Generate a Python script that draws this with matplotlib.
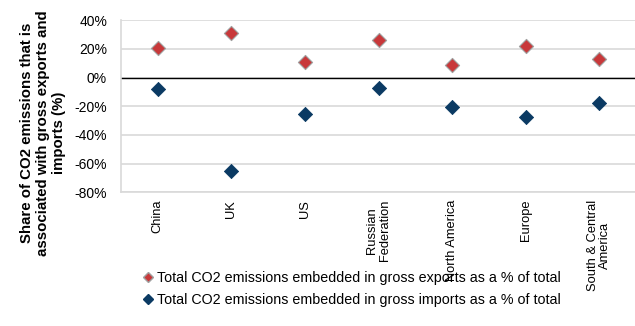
import matplotlib
matplotlib.use("Agg")
import matplotlib.pyplot as plt
from matplotlib.lines import Line2D

categories = ["China", "UK", "US", "Russian\nFederation", "North America", "Europe", "South & Central\nAmerica"]
exports = [20.8, 31.0, 10.8, 26.2, 8.5, 22.2, 12.7]
imports = [-8.2, -65.4, -25.7, -7.5, -20.8, -27.6, -17.8]
yticks = [40, 20, 0, -20, -40, -60, -80]

plt.rcParams['font.family'] = ['Liberation Sans', 'DejaVu Sans']

W, H = 635, 326
fig = plt.figure(figsize=(W/100, H/100), dpi=100)
left, right, top, bottom = 121, 636, 20.3, 192.3
ax = fig.add_axes([left/W, 1-bottom/H, (right-left)/W, (bottom-top)/H])

x = list(range(len(categories)))
red = "#C8383A"
blue = "#0B3A63"
ax.scatter(x, exports, marker="D", s=52, color=red, edgecolors="#A0A0A0", linewidths=0.8, zorder=3)
ax.scatter(x, imports, marker="D", s=52, color=blue, edgecolors=blue, linewidths=0.6, zorder=3)

ax.set_xlim(-0.5, len(categories)-0.5)
ax.set_ylim(-80, 40)
ax.set_yticks(yticks)
ax.set_yticklabels([f"{v}%" for v in yticks], fontsize=10)
ax.yaxis.grid(True, color="#D9D9D9", linewidth=1.2)
ax.set_axisbelow(True)
ax.axhline(0, color="black", linewidth=1.0, zorder=2)
for s in ["top", "right"]:
    ax.spines[s].set_visible(False)
ax.spines["left"].set_color("#D9D9D9")
ax.spines["bottom"].set_color("#D9D9D9")
ax.spines["left"].set_linewidth(1.2)
ax.spines["bottom"].set_linewidth(1.2)
ax.tick_params(axis="both", length=0)
ax.tick_params(axis="y", pad=10)
ax.set_xticks(x)
ax.set_xticklabels(categories, rotation=90, fontsize=9.3, va="top", ha="center", linespacing=1.05)
ax.tick_params(axis="x", pad=5.5)

fig.text(43/W, 1-133/H, "Share of CO2 emissions that is\nassociated with gross exports and\nimports (%)",
         rotation=90, ha="center", va="center", fontsize=10.8, fontweight="bold", linespacing=1.15)

handles = [Line2D([], [], marker="D", linestyle="", color=red, markeredgecolor="#A0A0A0", markersize=5),
           Line2D([], [], marker="D", linestyle="", color=blue, markersize=5)]
labels = ["Total CO2 emissions embedded in gross exports as a % of total",
          "Total CO2 emissions embedded in gross imports as a % of total"]
fig.legend(handles, labels, loc="center left", bbox_to_anchor=(137/W, 1-289/H), frameon=False,
           fontsize=10.3, handlelength=0.6, handletextpad=0.3, labelspacing=0.6, borderpad=0)

fig.savefig("out.png", dpi=100)
